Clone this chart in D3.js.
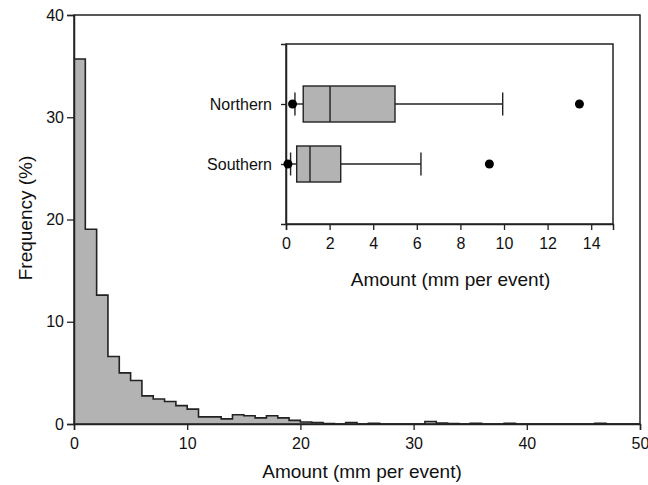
<!DOCTYPE html>
<html>
<head>
<meta charset="utf-8">
<script src="https://cdn.jsdelivr.net/npm/d3@7"></script>
<style>
  html, body { margin: 0; padding: 0; background: #fff; }
  svg { display: block; font-family: "Liberation Sans", Arial, sans-serif; }
</style>
</head>
<body>
<svg id="chart" width="648" height="485"></svg>
<script>
// ---- Data ----
// Histogram: frequency (%) for 1-mm bins starting at 0
const binStarts = d3.range(0, 50);
const frequency = [
  35.7, 19.05, 12.6, 6.6, 5.0, 4.25, 2.75, 2.45, 2.2, 1.8,
  1.45, 0.7, 0.7, 0.5, 0.9, 0.8, 0.6, 0.8, 0.6, 0.35,
  0.2, 0.15, 0.05, 0.0, 0.15, 0.0, 0.08, 0.0, 0.0, 0.0,
  0.0, 0.25, 0.1, 0.05, 0.0, 0.08, 0.0, 0.0, 0.08, 0.0,
  0.0, 0.0, 0.0, 0.0, 0.0, 0.0, 0.08, 0.0, 0.0, 0.0
];
const mainXTicks = [0, 10, 20, 30, 40, 50];
const mainYTicks = [0, 10, 20, 30, 40];

// Inset box plot
const regions = ["Northern", "Southern"];
const whiskerLow = [0.41, 0.21];
const q1 = [0.79, 0.49];
const median = [2.02, 1.1];
const q3 = [5.0, 2.51];
const whiskerHigh = [9.94, 6.19];
const outlierLow = [0.3, 0.09];
const outlierHigh = [13.46, 9.33];
const insetXTicks = [0, 2, 4, 6, 8, 10, 12, 14];

// ---- Layout ----
const svg = d3.select("#chart");
const M = { left: 74, right: 640, top: 15, bottom: 424 };
const lineColor = "#222";
const fillGray = "#b3b3b3";

const x = d3.scaleLinear().domain([0, 50]).range([M.left, M.right]);
const y = d3.scaleLinear().domain([0, 40]).range([M.bottom, M.top]);

// Histogram as a step area
const pts = binStarts.map((b, i) => [b, frequency[i]]);
pts.push([binStarts[binStarts.length - 1] + 1, frequency[frequency.length - 1]]);

svg.append("path")
  .datum(pts)
  .attr("d", d3.area().curve(d3.curveStepAfter)
    .x(d => x(d[0])).y0(y(0)).y1(d => y(d[1])))
  .attr("fill", fillGray);

svg.append("path")
  .datum(pts)
  .attr("d", d3.line().curve(d3.curveStepAfter)
    .x(d => x(d[0])).y(d => y(d[1])))
  .attr("fill", "none")
  .attr("stroke", lineColor)
  .attr("stroke-width", 1.6);

// Frame
svg.append("rect")
  .attr("x", M.left).attr("y", M.top)
  .attr("width", M.right - M.left).attr("height", M.bottom - M.top)
  .attr("fill", "none").attr("stroke", lineColor).attr("stroke-width", 1.5);

// Axes
const xAxis = svg.append("g")
  .attr("transform", `translate(0,${M.bottom})`)
  .call(d3.axisBottom(x).tickValues(mainXTicks).tickSize(6).tickPadding(8).tickFormat(d3.format("d")));
const yAxis = svg.append("g")
  .attr("transform", `translate(${M.left},0)`)
  .call(d3.axisLeft(y).tickValues(mainYTicks).tickSize(7).tickPadding(3).tickFormat(d3.format("d")));

[xAxis, yAxis].forEach(g => {
  g.select(".domain").attr("stroke", lineColor).attr("stroke-width", 1.5);
  g.selectAll(".tick line").attr("stroke", lineColor).attr("stroke-width", 1.3);
  g.selectAll(".tick text").attr("font-size", 16).attr("fill", "#111")
    .attr("font-family", "Liberation Sans, Arial, sans-serif");
});

svg.append("text")
  .attr("x", (M.left + M.right) / 2 + 5).attr("y", 478)
  .attr("text-anchor", "middle").attr("font-size", 19).attr("fill", "#111")
  .text("Amount (mm per event)");

svg.append("text")
  .attr("transform", `translate(32,218) rotate(-90)`)
  .attr("text-anchor", "middle").attr("font-size", 19).attr("fill", "#111")
  .text("Frequency (%)");

// ---- Inset ----
const I = { left: 286, right: 613, top: 44, bottom: 224 };
const xi = d3.scaleLinear().domain([0, 15]).range([I.left, I.right]);
const yi = d3.scalePoint().domain(regions).range([I.top, I.bottom]).padding(1);
const boxH = 36, capH = 23;

svg.append("rect")
  .attr("x", I.left).attr("y", I.top)
  .attr("width", I.right - I.left).attr("height", I.bottom - I.top)
  .attr("fill", "#fff").attr("stroke", lineColor).attr("stroke-width", 1.5);

const ixAxis = svg.append("g")
  .attr("transform", `translate(0,${I.bottom})`)
  .call(d3.axisBottom(xi).tickValues(insetXTicks).tickSize(6).tickPadding(8).tickFormat(d3.format("d")));
const iyAxis = svg.append("g")
  .attr("transform", `translate(${I.left},0)`)
  .call(d3.axisLeft(yi).tickSize(5).tickPadding(9));
[ixAxis, iyAxis].forEach(g => {
  g.select(".domain").attr("stroke", lineColor).attr("stroke-width", 1.5);
  g.selectAll(".tick line").attr("stroke", lineColor).attr("stroke-width", 1.3);
  g.selectAll(".tick text").attr("font-size", 16).attr("fill", "#111")
    .attr("font-family", "Liberation Sans, Arial, sans-serif");
});

svg.append("text")
  .attr("x", (I.left + I.right) / 2 + 1).attr("y", 286)
  .attr("text-anchor", "middle").attr("font-size", 19).attr("fill", "#111")
  .text("Amount (mm per event)");

const boxes = svg.append("g").selectAll("g")
  .data(regions.map((r, i) => ({
    r, lo: whiskerLow[i], q1: q1[i], med: median[i], q3: q3[i], hi: whiskerHigh[i],
    oLo: outlierLow[i], oHi: outlierHigh[i]
  })))
  .join("g");

boxes.each(function(d) {
  const g = d3.select(this);
  const cy = yi(d.r);
  // whiskers
  g.append("line").attr("x1", xi(d.lo)).attr("x2", xi(d.q1)).attr("y1", cy).attr("y2", cy)
    .attr("stroke", lineColor).attr("stroke-width", 1.4);
  g.append("line").attr("x1", xi(d.q3)).attr("x2", xi(d.hi)).attr("y1", cy).attr("y2", cy)
    .attr("stroke", lineColor).attr("stroke-width", 1.4);
  // caps
  [d.lo, d.hi].forEach(v => {
    g.append("line").attr("x1", xi(v)).attr("x2", xi(v))
      .attr("y1", cy - capH / 2).attr("y2", cy + capH / 2)
      .attr("stroke", lineColor).attr("stroke-width", 1.4);
  });
  // box
  g.append("rect").attr("x", xi(d.q1)).attr("y", cy - boxH / 2)
    .attr("width", xi(d.q3) - xi(d.q1)).attr("height", boxH)
    .attr("fill", fillGray).attr("stroke", lineColor).attr("stroke-width", 1.4);
  // median
  g.append("line").attr("x1", xi(d.med)).attr("x2", xi(d.med))
    .attr("y1", cy - boxH / 2).attr("y2", cy + boxH / 2)
    .attr("stroke", lineColor).attr("stroke-width", 1.4);
  // outliers
  [d.oLo, d.oHi].forEach(v => {
    g.append("circle").attr("cx", xi(v)).attr("cy", cy).attr("r", 4.5).attr("fill", "#000");
  });
});
</script>
</body>
</html>
